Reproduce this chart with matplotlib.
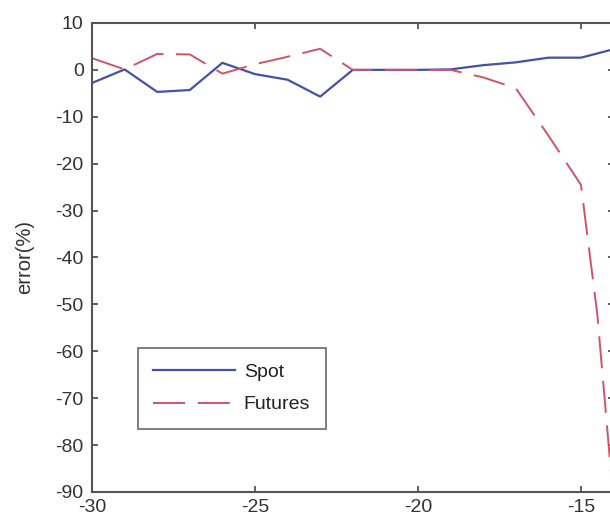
import matplotlib
matplotlib.use("Agg")
import matplotlib.pyplot as plt

# 誤差データ（%）
x_spot = [-30, -29, -28, -27, -26, -25, -24, -23, -22, -21, -20, -19, -18, -17, -16, -15, -14]
spot = [-2.8, 0.1, -4.7, -4.3, 1.5, -0.9, -2.1, -5.7, 0.0, 0.0, 0.0, 0.1, 1.0, 1.6, 2.6, 2.6, 4.4]

x_futures = [-30, -29, -28, -27, -26, -25, -24, -23, -22, -21, -20, -19, -18, -17, -16, -15, -14.5, -14]
futures = [2.5, 0.1, 3.4, 3.3, -0.8, 1.2, 2.8, 4.5, 0.0, 0.0, 0.0, 0.0, -1.6, -3.9, -14.0, -24.5, -52.0, -92.0]

x_ticks = [-30, -25, -20, -15]
y_ticks = list(range(-90, 11, 10))

plt.rcParams['font.family'] = ['Liberation Sans', 'DejaVu Sans']
plt.rcParams['axes.unicode_minus'] = False

fig = plt.figure(figsize=(6.10, 5.22), dpi=100)
ax = fig.add_axes([0.1508, 0.0575, 0.855, 0.8985])

ax.plot(x_spot, spot, color='#4650a4', lw=1.6, label='Spot')
ax.plot(x_futures, futures, color='#d05468', lw=1.4, dashes=(16.5, 6.5), label='Futures')

ax.set_xlim(-30, -14)
ax.set_ylim(-90, 10)
ax.set_xticks(x_ticks)
ax.set_yticks(y_ticks)
ax.tick_params(direction='in', length=4, width=1.2, color='#444',
               top=True, right=True, labelsize=14, labelcolor='#333')
ax.tick_params(axis='y', pad=6)
ax.tick_params(axis='x', pad=5)
for s in ax.spines.values():
    s.set_color('#555')
    s.set_linewidth(1.5)

ax.set_ylabel('error(%)', fontsize=14.5, color='#333', labelpad=15)

leg = ax.legend(loc='upper left', bbox_to_anchor=(0.088, 0.307), borderaxespad=0,
                fancybox=False, edgecolor='#444', fontsize=14, handlelength=4.2,
                handletextpad=0.45, labelspacing=0.75, borderpad=0.8)
leg.get_frame().set_linewidth(1.2)
for t in leg.get_texts():
    t.set_color('#222')

fig.savefig('out.png', dpi=100)
